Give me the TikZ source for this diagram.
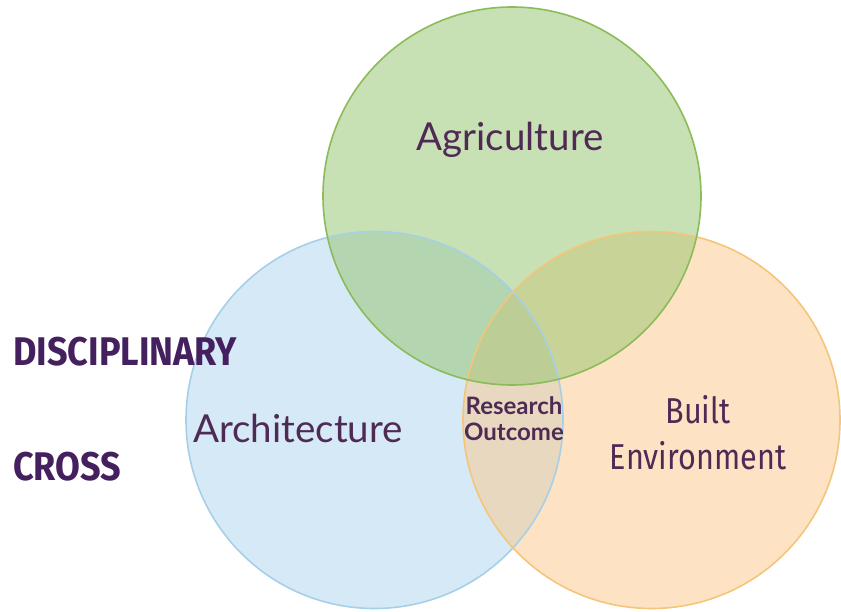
\documentclass[tikz,border=0pt]{standalone}
\usepackage{fontspec}
\usepackage{graphicx}
\setmainfont{Lato}
\newfontfamily\headfont{Fira Sans}
\newfontfamily\bodyfont{Lato}
\definecolor{titlepurple}{HTML}{45205E}
\definecolor{labelpurple}{HTML}{4E2A55}
\definecolor{agrifill}{HTML}{92C46B}
\definecolor{agriline}{HTML}{8CBB5A}
\definecolor{archfill}{HTML}{ACD5F0}
\definecolor{archline}{HTML}{A6D0E8}
\definecolor{builtfill}{HTML}{FCC98A}
\definecolor{builtline}{HTML}{F4C57A}
\tikzset{
  setfill/.style={fill=#1, fill opacity=0.5, draw=none},
  setline/.style={draw=#1, line width=1.6pt},
  sidetitle/.style={anchor=west, inner sep=0pt, text=titlepurple, font=\headfont\bfseries\fontsize{40}{40}\selectfont},
  setlabel/.style={inner sep=0pt, text=labelpurple, font=\bodyfont\fontsize{38.5}{38.5}\selectfont},
  condlabel/.style={inner sep=0pt, text=labelpurple, align=center, font=\headfont\fontsize{36}{46}\selectfont},
  centrelabel/.style={inner sep=0pt, text=labelpurple, align=center, font=\bodyfont\bfseries\fontsize{24}{26}\selectfont},
}
\begin{document}
\begin{tikzpicture}[x=1pt,y=-1pt]
  \useasboundingbox (0,0) rectangle (841,612);
  \fill[white] (0,0) rectangle (841,612);
  % centres of the three sets
  \coordinate (agri) at (512,196);
  \coordinate (arch) at (374.5,420);
  \coordinate (built) at (651.5,420);
  % translucent fills
  \fill[setfill=archfill] (arch) circle (188.5);
  \fill[setfill=builtfill] (built) circle (188.5);
  \fill[setfill=agrifill] (agri) circle (189);
  % outlines
  \draw[setline=archline] (arch) circle (188.5);
  \draw[setline=builtline] (built) circle (188.5);
  \draw[setline=agriline] (agri) circle (189);
  % labels
  \node[setlabel] (lagri) at (510,140) {Agriculture};
  \node[setlabel] (larch) at (298,428) {Architecture};
  \node[condlabel] (lbuilt) at (698,433) {\scalebox{0.85}[1]{Built}\\\scalebox{0.85}[1]{Environment}};
  \node[centrelabel] (lres) at (514,419) {Research\\Outcome};
  \node[sidetitle] (disc) at (13,352) {\scalebox{0.9}[1]{DISCIPLINARY}};
  \node[sidetitle] (cross) at (13,467) {\scalebox{0.9}[1]{CROSS}};
\end{tikzpicture}
\end{document}
